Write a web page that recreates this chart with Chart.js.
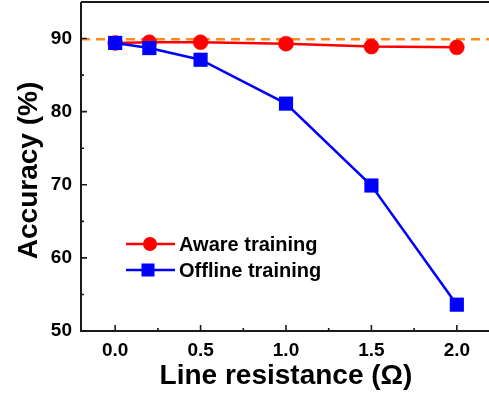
<!DOCTYPE html>
<html><head><meta charset="utf-8">
<script src="https://cdn.jsdelivr.net/npm/chart.js@4.4.0/dist/chart.umd.min.js"></script>
<style>html,body{margin:0;padding:0;overflow:hidden;background:#fff;width:489px;height:399px}
#wrap{width:492px;height:399px;position:relative}</style>
</head><body><div id="wrap"><canvas id="c"></canvas></div>
<script>
const resistance = [0, 0.2, 0.5, 1.0, 1.5, 2.0];
const awareTraining = [89.4, 89.5, 89.5, 89.3, 88.9, 88.8];
const offlineTraining = [89.4, 88.7, 87.1, 81.1, 69.9, 53.6];
const baselineAccuracy = 89.9;
const xTickValues = [0, 0.5, 1.0, 1.5, 2.0];
const yTickValues = [50, 60, 70, 80, 90];
const xMinorTicks = [0.25, 0.75, 1.25, 1.75];
const yMinorTicks = [55, 65, 75, 85];
const seriesNames = ['Aware training', 'Offline training'];
const xTitle = 'Line resistance (Ω)';
const yTitle = 'Accuracy (%)';

const FONT = '"Liberation Sans", Arial, sans-serif';
const RED = '#ff0000', BLUE = '#0000ff', ORANGE = '#ff8c1a', AX = '#1a1a1a';

const zeroPad = s => { s.paddingTop = 0; s.paddingBottom = 0; s.paddingLeft = 0; s.paddingRight = 0; };

const decor = {
  id: 'decor',
  afterDraw(chart) {
    const {ctx, chartArea: a, scales: {x, y}} = chart;
    ctx.save();
    ctx.strokeStyle = AX; ctx.lineWidth = 2;
    ctx.beginPath();
    ctx.moveTo(a.left, a.top); ctx.lineTo(a.left, a.bottom); ctx.lineTo(a.right, a.bottom);
    ctx.moveTo(a.left, a.top); ctx.lineTo(a.right, a.top);
    ctx.stroke();
    ctx.lineWidth = 1.6;
    ctx.beginPath();
    xTickValues.forEach(v => { const p = x.getPixelForValue(v); ctx.moveTo(p, a.bottom); ctx.lineTo(p, a.bottom - 6); });
    xMinorTicks.forEach(v => { const p = x.getPixelForValue(v); ctx.moveTo(p, a.bottom); ctx.lineTo(p, a.bottom - 3); });
    yTickValues.forEach(v => { const p = y.getPixelForValue(v); ctx.moveTo(a.left, p); ctx.lineTo(a.left + 6, p); });
    yMinorTicks.forEach(v => { const p = y.getPixelForValue(v); ctx.moveTo(a.left, p); ctx.lineTo(a.left + 3, p); });
    ctx.stroke();

    // titles
    ctx.fillStyle = '#000';
    ctx.font = 'bold 28px ' + FONT;
    ctx.textAlign = 'center'; ctx.textBaseline = 'alphabetic';
    ctx.fillText(xTitle, (a.left + a.right) / 2, 384);
    ctx.save();
    ctx.translate(37, 170.5); ctx.rotate(-Math.PI / 2);
    ctx.fillText(yTitle, 0, 0);
    ctx.restore();

    // legend
    const items = [
      {name: seriesNames[0], color: RED, shape: 'circle', yy: 244},
      {name: seriesNames[1], color: BLUE, shape: 'square', yy: 270}
    ];
    items.forEach(it => {
      ctx.strokeStyle = it.color; ctx.lineWidth = 2.5;
      ctx.beginPath(); ctx.moveTo(126, it.yy); ctx.lineTo(175, it.yy); ctx.stroke();
      ctx.fillStyle = it.color;
      if (it.shape === 'circle') { ctx.beginPath(); ctx.arc(150, it.yy, 7, 0, Math.PI * 2); ctx.fill(); }
      else { ctx.fillRect(148 - 6.5, it.yy - 6.5, 13, 13); }
      ctx.fillStyle = '#000';
      ctx.font = 'bold 20px ' + FONT;
      ctx.textAlign = 'left'; ctx.textBaseline = 'middle';
      ctx.fillText(it.name, 179, it.yy + 1);
    });
    ctx.restore();
  }
};

const toPts = arr => resistance.map((r, i) => ({x: r, y: arr[i]}));

new Chart(document.getElementById('c'), {
  type: 'line',
  data: {
    datasets: [
      {label: 'baseline', data: [{x: -0.2, y: baselineAccuracy}, {x: 2.2, y: baselineAccuracy}],
       borderColor: ORANGE, borderWidth: 2.5, borderDash: [9, 6], pointRadius: 0, order: 3},
      {label: seriesNames[0], data: toPts(awareTraining), borderColor: RED, backgroundColor: RED,
       borderWidth: 2.5, pointRadius: 7.5, pointBorderWidth: 0.5, pointStyle: 'circle', order: 2},
      {label: seriesNames[1], data: toPts(offlineTraining), borderColor: BLUE, backgroundColor: BLUE,
       borderWidth: 2.5, pointRadius: 10, pointBorderWidth: 0, pointStyle: 'rect', order: 1}
    ]
  },
  options: {
    responsive: true, maintainAspectRatio: false, animation: false,
    layout: {autoPadding: false, padding: {top: 2, right: 1, left: 0, bottom: 0}},
    plugins: {legend: {display: false}, tooltip: {enabled: false}},
    scales: {
      x: {
        type: 'linear', min: -0.2, max: 2.2,
        grid: {display: false, drawTicks: false}, border: {display: false},
        afterBuildTicks: s => { s.ticks = xTickValues.map(v => ({value: v})); },
        afterFit: s => { s.height = 68; zeroPad(s); },
        ticks: {padding: 8, color: '#000', font: {family: FONT, size: 19, weight: 'bold'},
                callback: v => Number(v).toFixed(1), maxRotation: 0}
      },
      y: {
        type: 'linear', min: 50, max: 95,
        grid: {display: false, drawTicks: false}, border: {display: false},
        afterBuildTicks: s => { s.ticks = yTickValues.map(v => ({value: v})); },
        afterFit: s => { s.width = 81; zeroPad(s); },
        ticks: {padding: 9, color: '#000', font: {family: FONT, size: 19, weight: 'bold'}}
      }
    }
  },
  plugins: [decor]
});
</script></body></html>
